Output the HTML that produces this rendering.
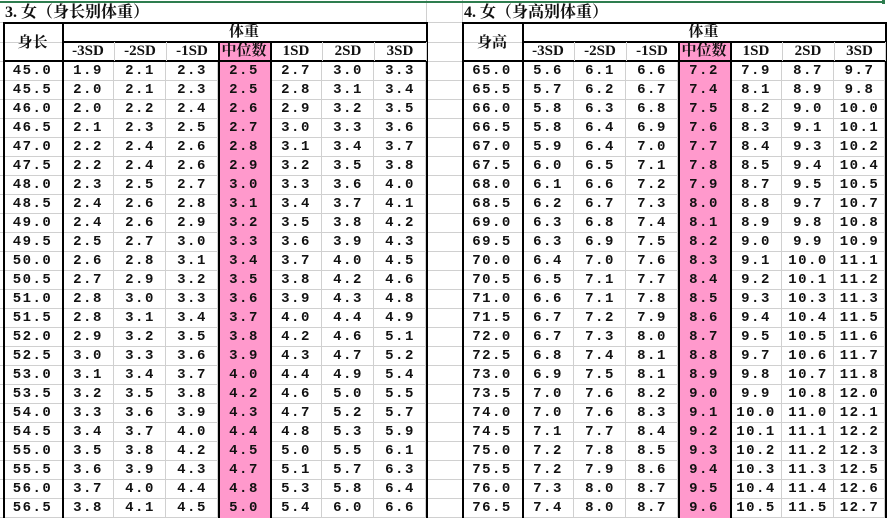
<!DOCTYPE html>
<html><head><meta charset="utf-8">
<style>
body{margin:0;width:887px;height:518px;overflow:hidden;background:#fff;position:relative;font-family:"Liberation Sans","Noto Sans CJK SC",sans-serif}
.l{position:absolute}
.t{position:absolute;text-align:center;font-family:"Liberation Mono","Noto Sans CJK SC",monospace;font-weight:bold;font-size:14px;line-height:19px;color:#111;letter-spacing:1.5px}
.h{position:absolute;text-align:center;font-family:"Liberation Serif","Noto Serif CJK SC",serif;font-weight:bold;font-size:15px;line-height:20px;color:#111}
</style></head><body>
<div id="root"></div>
<script>
const leftHeights=[45.0,45.5,46.0,46.5,47.0,47.5,48.0,48.5,49.0,49.5,50.0,50.5,51.0,51.5,52.0,52.5,53.0,53.5,54.0,54.5,55.0,55.5,56.0,56.5];
const leftM3=[1.9,2.0,2.0,2.1,2.2,2.2,2.3,2.4,2.4,2.5,2.6,2.7,2.8,2.8,2.9,3.0,3.1,3.2,3.3,3.4,3.5,3.6,3.7,3.8];
const leftM2=[2.1,2.1,2.2,2.3,2.4,2.4,2.5,2.6,2.6,2.7,2.8,2.9,3.0,3.1,3.2,3.3,3.4,3.5,3.6,3.7,3.8,3.9,4.0,4.1];
const leftM1=[2.3,2.3,2.4,2.5,2.6,2.6,2.7,2.8,2.9,3.0,3.1,3.2,3.3,3.4,3.5,3.6,3.7,3.8,3.9,4.0,4.2,4.3,4.4,4.5];
const leftMed=[2.5,2.5,2.6,2.7,2.8,2.9,3.0,3.1,3.2,3.3,3.4,3.5,3.6,3.7,3.8,3.9,4.0,4.2,4.3,4.4,4.5,4.7,4.8,5.0];
const leftP1=[2.7,2.8,2.9,3.0,3.1,3.2,3.3,3.4,3.5,3.6,3.7,3.8,3.9,4.0,4.2,4.3,4.4,4.6,4.7,4.8,5.0,5.1,5.3,5.4];
const leftP2=[3.0,3.1,3.2,3.3,3.4,3.5,3.6,3.7,3.8,3.9,4.0,4.2,4.3,4.4,4.6,4.7,4.9,5.0,5.2,5.3,5.5,5.7,5.8,6.0];
const leftP3=[3.3,3.4,3.5,3.6,3.7,3.8,4.0,4.1,4.2,4.3,4.5,4.6,4.8,4.9,5.1,5.2,5.4,5.5,5.7,5.9,6.1,6.3,6.4,6.6];
const rightHeights=[65.0,65.5,66.0,66.5,67.0,67.5,68.0,68.5,69.0,69.5,70.0,70.5,71.0,71.5,72.0,72.5,73.0,73.5,74.0,74.5,75.0,75.5,76.0,76.5];
const rightM3=[5.6,5.7,5.8,5.8,5.9,6.0,6.1,6.2,6.3,6.3,6.4,6.5,6.6,6.7,6.7,6.8,6.9,7.0,7.0,7.1,7.2,7.2,7.3,7.4];
const rightM2=[6.1,6.2,6.3,6.4,6.4,6.5,6.6,6.7,6.8,6.9,7.0,7.1,7.1,7.2,7.3,7.4,7.5,7.6,7.6,7.7,7.8,7.9,8.0,8.0];
const rightM1=[6.6,6.7,6.8,6.9,7.0,7.1,7.2,7.3,7.4,7.5,7.6,7.7,7.8,7.9,8.0,8.1,8.1,8.2,8.3,8.4,8.5,8.6,8.7,8.7];
const rightMed=[7.2,7.4,7.5,7.6,7.7,7.8,7.9,8.0,8.1,8.2,8.3,8.4,8.5,8.6,8.7,8.8,8.9,9.0,9.1,9.2,9.3,9.4,9.5,9.6];
const rightP1=[7.9,8.1,8.2,8.3,8.4,8.5,8.7,8.8,8.9,9.0,9.1,9.2,9.3,9.4,9.5,9.7,9.8,9.9,10.0,10.1,10.2,10.3,10.4,10.5];
const rightP2=[8.7,8.9,9.0,9.1,9.3,9.4,9.5,9.7,9.8,9.9,10.0,10.1,10.3,10.4,10.5,10.6,10.7,10.8,11.0,11.1,11.2,11.3,11.4,11.5];
const rightP3=[9.7,9.8,10.0,10.1,10.2,10.4,10.5,10.7,10.8,10.9,11.1,11.2,11.3,11.5,11.6,11.7,11.8,12.0,12.1,12.2,12.3,12.5,12.6,12.7];
const sdLabels=['-3SD','-2SD','-1SD','中位数','1SD','2SD','3SD'];

const root=document.getElementById('root');
function line(x,y,w,h,c,name){
  const d=document.createElement('div');d.className='l';
  d.style.cssText=`left:${x}px;top:${y}px;width:${w}px;height:${h}px;background:${c}`;
  
  
  root.appendChild(d);return d;
}
function text(cls,x,y,w,h,s,name){
  const d=document.createElement('div');d.className=cls;
  d.style.cssText=`left:${x}px;top:${y}px;width:${w}px;height:${h}px;line-height:${h}px`;
  d.textContent=s;
  
  
  root.appendChild(d);return d;
}
const G='#d0d0d0',K='#000';
const ROW0=61,RH=19;
for(let i=0;i<=24;i++) line(0,ROW0+i*RH,887,1,G,'row-gridline');
line(0,22,887,1,G,'row-gridline');line(0,42,887,1,G,'row-gridline');
[426,462].forEach(x=>line(x,0,1,518,G,'col-gridline'));
line(0,1,884,2,'#2e7d4f','selection-top-border');
line(882,0,3,4,'#2e7d4f','selection-corner');

function table(xs,title,firstHdr,heights,cols,prefix){
  const x0=xs[0],x1=xs[xs.length-1];
  const tt=text('h',x0+2,4,300,18,title,prefix+'-title');
  tt.style.textAlign='left';tt.style.fontSize='16px';
  line(xs[4],42,xs[5]-xs[4],518-42,'#ff99cc',prefix+'-median-column');
  for(let c=1;c<xs.length-1;c++) if(c!==4) line(xs[c+1]-1,ROW0,1,518-ROW0,G,'cell-gridline');
  line(x0,22,x1-x0+2,2,K,'table-top-border');
  line(xs[1],41,x1-xs[1],2,K,'header-divider');
  line(x0,60,x1-x0+2,2,K,'header-bottom-border');
  line(x0,22,2,496,K,'table-left-border');
  line(xs[1],22,2,496,K,'first-col-border');
  line(x1,22,2,496,K,'table-right-border');
  line(xs[4],41,2,477,K,'median-left-border');
  line(xs[5],41,2,477,K,'median-right-border');
  for(let c=1;c<xs.length-1;c++) if(c<3||c>4) line(xs[c+1],42,1,19,G,'header-gridline');
  text('h',x0,24,xs[1]-x0,38,firstHdr,prefix+'-height-header');
  text('h',xs[1],22,x1-xs[1],20,'体重',prefix+'-weight-header');
  sdLabels.forEach((s,i)=>text('h',xs[i+1],42,xs[i+2]-xs[i+1],19,s,prefix+'-sd-header'));
  heights.forEach((h,r)=>{
    const y=ROW0+r*RH+1;
    text('t',x0,y,xs[1]-x0,RH-1,h.toFixed(1),prefix+'-height-cell');
    cols.forEach((arr,c)=>text('t',xs[c+1],y,xs[c+2]-xs[c+1],RH-1,arr[r].toFixed(1),prefix+'-weight-cell'));
  });
}
table([3,62,114,166,218,270,322,374,426],'3. 女（身长别体重）','身长',leftHeights,
  [leftM3,leftM2,leftM1,leftMed,leftP1,leftP2,leftP3],'length-table');
table([462,522,574,626,678,730,782,834,885],'4. 女（身高别体重）','身高',rightHeights,
  [rightM3,rightM2,rightM1,rightMed,rightP1,rightP2,rightP3],'height-table');
</script>
</body></html>
